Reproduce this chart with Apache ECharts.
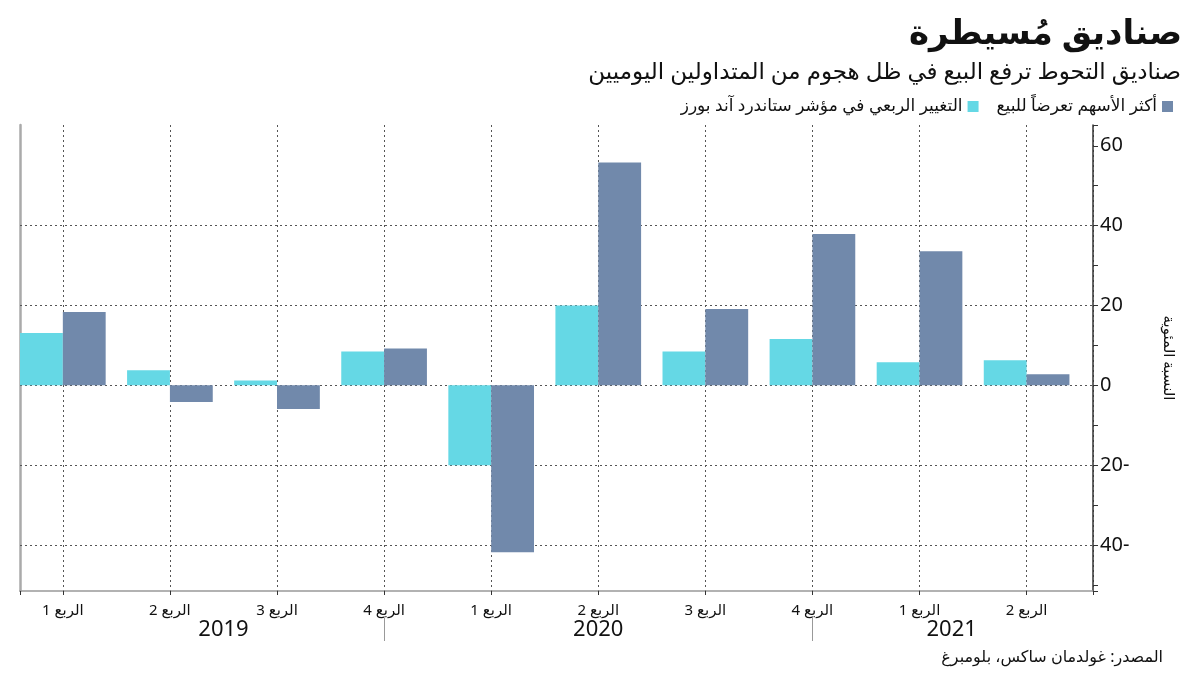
<!DOCTYPE html>
<html>
<head>
<meta charset="utf-8">
<script src="https://cdn.jsdelivr.net/npm/echarts@6/dist/echarts.min.js"></script>
<style>html,body{margin:0;padding:0;background:#fff}#c{width:1200px;height:675px}</style>
</head>
<body>
<div id="c"></div>
<script>
const quarterLabels = ['الربع 1','الربع 2','الربع 3','الربع 4','الربع 1','الربع 2','الربع 3','الربع 4','الربع 1','الربع 2'];
const spxChange = [13.1, 3.8, 1.2, 8.5, -20.0, 20.0, 8.5, 11.6, 5.8, 6.3];
const shortedStocks = [18.4, -4.2, -5.9, 9.2, -41.8, 55.8, 19.1, 37.9, 33.6, 2.8];
const yearLabels = ['2019', '2020', '2021'];
const yearLabelPos = [1.5, 5, 8.3];
const yearSeparatorPos = [3, 7];
const yGridValues = [-40, -20, 0, 20, 40];
const seriesNames = ['التغيير الربعي في مؤشر ستاندرد آند بورز', 'أكثر الأسهم تعرضاً للبيع'];

const FONT = "'Noto Sans', 'DejaVu Sans', sans-serif";
const dotted = { type: [2, 3], color: '#555', width: 1 };

const chart = echarts.init(document.getElementById('c'), null, { renderer: 'canvas' });
const option = {
  animation: false,
  backgroundColor: '#fff',
  textStyle: { fontFamily: FONT, color: '#111' },
  title: [
    { text: 'صناديق مُسيطرة', right: 13, top: 12,
      textStyle: { fontFamily: FONT, fontSize: 34, fontWeight: 'bold', color: '#111' } },
    { text: 'صناديق التحوط ترفع البيع في ظل هجوم من المتداولين اليوميين', right: 14, top: 56,
      textStyle: { fontFamily: FONT, fontSize: 23, fontWeight: 'normal', color: '#111' } },
    { text: 'المصدر: غولدمان ساكس، بلومبرغ', right: 32, top: 644,
      textStyle: { fontFamily: FONT, fontSize: 16, fontWeight: 'normal', color: '#111' } }
  ],
  legend: {
    data: seriesNames,
    right: 22, top: 93, align: 'right',
    icon: 'rect', itemWidth: 11, itemHeight: 11, itemGap: 18,
    textStyle: { fontFamily: FONT, fontSize: 17, color: '#111' }
  },
  grid: { left: 20, right: 107, top: 125, bottom: 84 },
  xAxis: {
    type: 'value', min: -0.4, max: 9.62, minInterval: 1, maxInterval: 1,
    axisLine: { show: true, onZero: false, lineStyle: { color: '#999', width: 1.5 } },
    axisTick: { show: true, length: 4, lineStyle: { color: '#333' } },
    axisLabel: {
      margin: 12, fontSize: 15, color: '#111', fontFamily: FONT,
      formatter: v => (Number.isInteger(v) && quarterLabels[v] !== undefined) ? quarterLabels[v] : ''
    },
    splitLine: { show: true, lineStyle: dotted }
  },
  yAxis: [
    {
      type: 'value', position: 'right', min: -51.5, max: 65.2, minInterval: 10, maxInterval: 10,
      axisLine: { show: true, onZero: false, lineStyle: { color: '#333', width: 1.5 } },
      axisTick: { show: true, length: 5, lineStyle: { color: '#333' } },
      axisLabel: {
        margin: 7, fontSize: 20, color: '#111', fontFamily: FONT,
        formatter: v => (v % 20 === 0) ? (v < 0 ? Math.abs(v) + '-' : String(v)) : ''
      },
      splitLine: { show: false },
      name: 'النسبة المئوية', nameLocation: 'middle', nameGap: 68, nameRotate: -90,
      nameTextStyle: { fontFamily: FONT, fontSize: 15, color: '#111' }
    },
    {
      type: 'value', position: 'left', min: -51.5, max: 65.2,
      axisLine: { show: true, onZero: false, lineStyle: { color: '#aaa', width: 2.5 } },
      axisTick: { show: false }, axisLabel: { show: false }, splitLine: { show: false }
    }
  ],
  series: [
    {
      name: seriesNames[0], type: 'bar', xAxisIndex: 0, yAxisIndex: 0,
      data: spxChange.map((v, i) => [i, v]),
      barGap: '0%', barCategoryGap: '20%',
      itemStyle: { color: '#65d8e5' },
      markLine: {
        z: 1, silent: true, symbol: 'none', label: { show: false },
        lineStyle: dotted,
        data: yGridValues.map(v => ({ yAxis: v }))
      }
    },
    {
      name: seriesNames[1], type: 'bar', xAxisIndex: 0, yAxisIndex: 0,
      data: shortedStocks.map((v, i) => [i, v]),
      barGap: '0%', barCategoryGap: '20%',
      itemStyle: { color: '#7189ab' }
    }
  ]
};
chart.setOption(option);

const px = v => chart.convertToPixel({ xAxisIndex: 0, yAxisIndex: 0 }, [v, 0])[0];
const graphics = [];
yearLabels.forEach((y, i) => {
  graphics.push({
    type: 'text', x: px(yearLabelPos[i]), y: 630,
    style: { text: y, fontFamily: FONT, fontSize: 22, fill: '#111', align: 'center', verticalAlign: 'middle' }
  });
});
yearSeparatorPos.forEach(p => {
  const x = Math.round(px(p)) + 0.5;
  graphics.push({ type: 'line', shape: { x1: x, y1: 618, x2: x, y2: 641 }, style: { stroke: '#999', lineWidth: 1 } });
});
chart.setOption({ graphic: graphics });
</script>
</body>
</html>
